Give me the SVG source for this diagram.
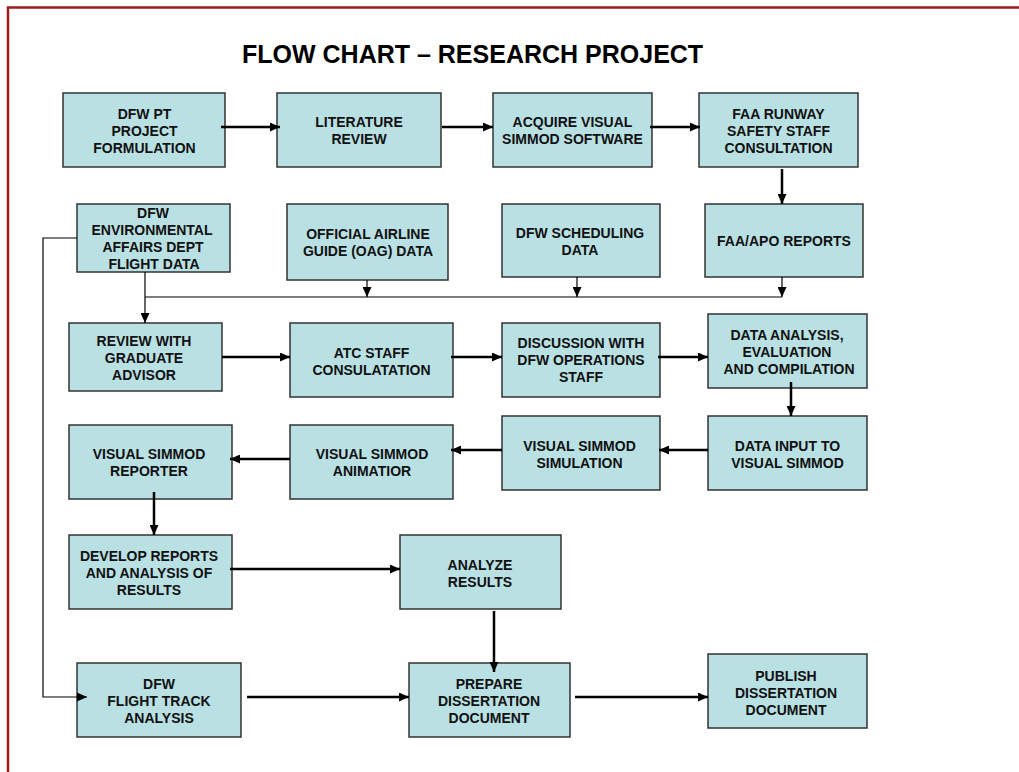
<svg xmlns="http://www.w3.org/2000/svg" width="1019" height="772" viewBox="0 0 1019 772">
<style>
.box{fill:#B9E0E3;stroke:#333;stroke-width:1.5}
.t{font-family:"Liberation Sans",Arial,sans-serif;font-weight:bold;font-size:14px;fill:#111;text-anchor:middle}
.title{font-family:"Liberation Sans",Arial,sans-serif;font-weight:bold;font-size:25px;fill:#000}
.thick{stroke:#000;stroke-width:2.5;fill:none;marker-end:url(#ah)}
.thin{stroke:#000;stroke-width:1.2;fill:none}
.thinA{stroke:#000;stroke-width:1.2;fill:none;marker-end:url(#ah)}
</style>
<defs>
<marker id="ah" markerUnits="userSpaceOnUse" markerWidth="10" markerHeight="9" refX="10" refY="4.5" orient="auto">
<path d="M0,0 L10,4.5 L0,9 z" fill="#000"/>
</marker>
</defs>
<rect width="1019" height="772" fill="#fff"/>
<path d="M8,772 V7.5 H1019" fill="none" stroke="#9B1C1C" stroke-width="2.5"/>
<text class="title" x="242" y="63">FLOW CHART – RESEARCH PROJECT</text>

<g id="n1"><rect class="box" x="63" y="93" width="162" height="74"/>
<text class="t" x="144.5" y="119">DFW PT</text><text class="t" x="144.5" y="136">PROJECT</text><text class="t" x="144.5" y="153">FORMULATION</text></g>
<g id="n2"><rect class="box" x="277" y="93" width="164" height="74"/>
<text class="t" x="359" y="127">LITERATURE</text><text class="t" x="359" y="144">REVIEW</text></g>
<g id="n3"><rect class="box" x="493" y="93" width="159" height="74"/>
<text class="t" x="572.5" y="127">ACQUIRE VISUAL</text><text class="t" x="572.5" y="144">SIMMOD SOFTWARE</text></g>
<g id="n4"><rect class="box" x="699" y="93" width="159" height="74"/>
<text class="t" x="778.5" y="119">FAA RUNWAY</text><text class="t" x="778.5" y="136">SAFETY STAFF</text><text class="t" x="778.5" y="153">CONSULTATION</text></g>

<g id="n5"><rect class="box" x="77" y="204" width="153" height="68"/>
<text class="t" x="153" y="218">DFW</text><text class="t" x="152" y="235">ENVIRONMENTAL</text><text class="t" x="153" y="252">AFFAIRS DEPT</text><text class="t" x="154" y="269">FLIGHT DATA</text></g>
<g id="n6"><rect class="box" x="287" y="204" width="161" height="76"/>
<text class="t" x="368" y="239">OFFICIAL AIRLINE</text><text class="t" x="368" y="256">GUIDE (OAG) DATA</text></g>
<g id="n7"><rect class="box" x="502" y="204" width="158" height="73"/>
<text class="t" x="580" y="238">DFW SCHEDULING</text><text class="t" x="580" y="255">DATA</text></g>
<g id="n8"><rect class="box" x="705" y="204" width="158" height="73"/>
<text class="t" x="784" y="245.5">FAA/APO REPORTS</text></g>

<g id="n9"><rect class="box" x="69" y="323" width="153" height="68"/>
<text class="t" x="144" y="346">REVIEW WITH</text><text class="t" x="144" y="363">GRADUATE</text><text class="t" x="144" y="380">ADVISOR</text></g>
<g id="n10"><rect class="box" x="290" y="323" width="163" height="74"/>
<text class="t" x="371.5" y="357.5">ATC STAFF</text><text class="t" x="371.5" y="374.5">CONSULATATION</text></g>
<g id="n11"><rect class="box" x="502" y="323" width="158" height="74"/>
<text class="t" x="581" y="348">DISCUSSION WITH</text><text class="t" x="581" y="365">DFW OPERATIONS</text><text class="t" x="581" y="382">STAFF</text></g>
<g id="n12"><rect class="box" x="708" y="314" width="159" height="74"/>
<text class="t" x="787" y="340">DATA ANALYSIS,</text><text class="t" x="787" y="357">EVALUATION</text><text class="t" x="789" y="374">AND COMPILATION</text></g>

<g id="n13"><rect class="box" x="69" y="425" width="163" height="74"/>
<text class="t" x="149" y="459">VISUAL SIMMOD</text><text class="t" x="149" y="476">REPORTER</text></g>
<g id="n14"><rect class="box" x="290" y="425" width="163" height="74"/>
<text class="t" x="372" y="459">VISUAL SIMMOD</text><text class="t" x="372" y="476">ANIMATIOR</text></g>
<g id="n15"><rect class="box" x="502" y="416" width="158" height="74"/>
<text class="t" x="579.5" y="450.5">VISUAL SIMMOD</text><text class="t" x="579.5" y="467.5">SIMULATION</text></g>
<g id="n16"><rect class="box" x="708" y="416" width="159" height="74"/>
<text class="t" x="787.5" y="450.5">DATA INPUT TO</text><text class="t" x="787.5" y="467.5">VISUAL SIMMOD</text></g>

<g id="n17"><rect class="box" x="69" y="535" width="163" height="74"/>
<text class="t" x="149" y="561">DEVELOP REPORTS</text><text class="t" x="149" y="578">AND ANALYSIS OF</text><text class="t" x="149" y="595">RESULTS</text></g>
<g id="n18"><rect class="box" x="400" y="535" width="161" height="74"/>
<text class="t" x="480" y="569.5">ANALYZE</text><text class="t" x="480" y="586.5">RESULTS</text></g>

<g id="n19"><rect class="box" x="77" y="663" width="164" height="74"/>
<text class="t" x="159" y="689">DFW</text><text class="t" x="159" y="706">FLIGHT TRACK</text><text class="t" x="159" y="723">ANALYSIS</text></g>
<g id="n20"><rect class="box" x="409" y="663" width="161" height="74"/>
<text class="t" x="489" y="689">PREPARE</text><text class="t" x="489" y="706">DISSERTATION</text><text class="t" x="489" y="723">DOCUMENT</text></g>
<g id="n21"><rect class="box" x="708" y="654" width="159" height="74"/>
<text class="t" x="786" y="680.5">PUBLISH</text><text class="t" x="786" y="697.5">DISSERTATION</text><text class="t" x="786" y="714.5">DOCUMENT</text></g>

<g id="connectors">
<line class="thick" x1="221" y1="127" x2="280" y2="127"/>
<line class="thick" x1="442" y1="127" x2="493" y2="127"/>
<line class="thick" x1="650" y1="127" x2="700" y2="127"/>
<line class="thick" x1="782" y1="169" x2="782" y2="204"/>
<line class="thin" x1="145" y1="297" x2="782" y2="297"/>
<line class="thinA" x1="145" y1="272" x2="145" y2="323"/>
<line class="thinA" x1="367" y1="280" x2="367" y2="297"/>
<line class="thinA" x1="577" y1="277" x2="577" y2="297"/>
<line class="thinA" x1="782" y1="277" x2="782" y2="297"/>
<path class="thinA" d="M77,238 H43 V697 H87"/>
<line class="thick" x1="222" y1="357" x2="290" y2="357"/>
<line class="thick" x1="451" y1="357" x2="502" y2="357"/>
<line class="thick" x1="658" y1="357" x2="708" y2="357"/>
<line class="thick" x1="791" y1="382" x2="791" y2="416"/>
<line class="thick" x1="708" y1="450" x2="659" y2="450"/>
<line class="thick" x1="502" y1="450" x2="451" y2="450"/>
<line class="thick" x1="290" y1="459" x2="230" y2="459"/>
<line class="thick" x1="154" y1="492" x2="154" y2="535"/>
<line class="thick" x1="230" y1="569" x2="400" y2="569"/>
<line class="thick" x1="494" y1="611" x2="494" y2="672"/>
<line class="thick" x1="247" y1="697" x2="409" y2="697"/>
<line class="thick" x1="575" y1="697" x2="708" y2="697"/>
</g>
</svg>
